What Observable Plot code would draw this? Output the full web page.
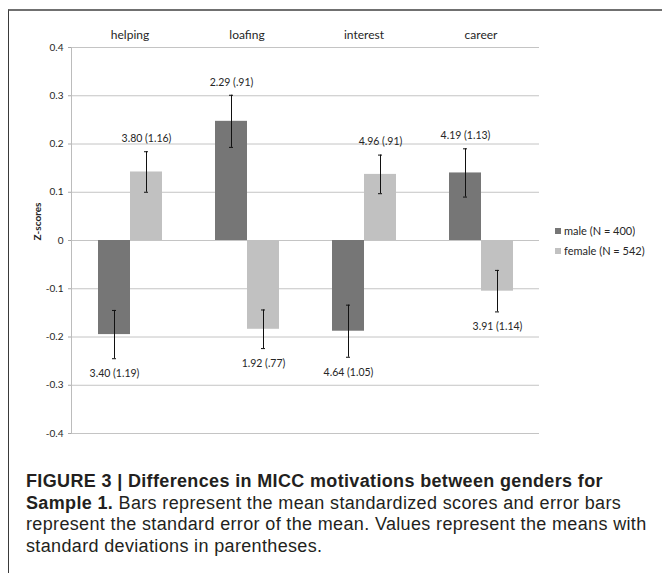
<!DOCTYPE html>
<html>
<head>
<meta charset="utf-8">
<script src="https://cdn.jsdelivr.net/npm/d3@7"></script>
<script src="https://cdn.jsdelivr.net/npm/@observablehq/plot@0.6"></script>
<style>
  html, body { margin: 0; padding: 0; background: #fff; }
  body { width: 662px; height: 581px; overflow: hidden; position: relative; }
  #frame {
    position: absolute; left: 8px; top: 9px; width: 700px; height: 562px;
    border-top: 2px solid #707070; border-left: 1.5px solid #3a3a3a;
  }
  #chart { position: absolute; left: 0; top: 0; }
  #legend { position: absolute; left: 555px; top: 221px; }
  .lg-swatch { height: 19px; }
  .lg-swatch svg { margin-right: 3px !important; }
  #caption {
    position: absolute; left: 26px; top: 471px; white-space: nowrap;
    font-family: "Liberation Sans", Arial, sans-serif; font-size: 18px;
    letter-spacing: 0.35px; line-height: 21.7px; color: #231f20;
  }
  #caption b { font-weight: bold; }
</style>
</head>
<body>
<div id="frame"></div>
<div id="chart"></div>
<div id="legend"></div>
<div id="caption"><b>FIGURE 3 | Differences in MICC motivations between genders for<br>Sample 1.</b> Bars represent the mean standardized scores and error bars<br>represent the standard error of the mean. Values represent the means with<br>standard deviations in parentheses.</div>
<script>
// MICC motivation scales, by gender
const categories = ["helping", "loafing", "interest", "career"];
const genders = ["male", "female"];
const groupN = [400, 542];

// standardized means (z-scores) and their standard errors
const maleZ = [-0.195, 0.247, -0.188, 0.140];
const maleSE = [0.050, 0.054, 0.054, 0.050];
const femaleZ = [0.142, -0.184, 0.137, -0.105];
const femaleSE = [0.042, 0.040, 0.040, 0.043];

// raw means and standard deviations shown as labels
const maleMean = [3.40, 2.29, 4.64, 4.19];
const maleSD = [1.19, 0.91, 1.05, 1.13];
const femaleMean = [3.80, 1.92, 4.96, 3.91];
const femaleSD = [1.16, 0.77, 0.91, 1.14];

const yTicks = [0.4, 0.3, 0.2, 0.1, 0, -0.1, -0.2, -0.3, -0.4];

const fmtSD = (s) => "(" + (s < 1 ? s.toFixed(2).slice(1) : s.toFixed(2)) + ")";

const rows = [];
categories.forEach((c, i) => {
  rows.push({category: c, gender: "male", z: maleZ[i], se: maleSE[i], mean: maleMean[i], sd: maleSD[i]});
  rows.push({category: c, gender: "female", z: femaleZ[i], se: femaleSE[i], mean: femaleMean[i], sd: femaleSD[i]});
});
rows.forEach((d) => {
  d.lo = d.z - d.se;
  d.hi = d.z + d.se;
  d.end = d.z >= 0 ? d.hi : d.lo;
  d.label = d.mean.toFixed(2) + " " + fmtSD(d.sd);
});
const pos = rows.filter((d) => d.z >= 0);
const neg = rows.filter((d) => d.z < 0);

const colors = ["#767676", "#c1c1c1"];
const font = "Lato, 'Open Sans', sans-serif";

const chart = Plot.plot({
  width: 662,
  height: 440,
  marginLeft: 70,
  marginRight: 122,
  marginTop: 47,
  marginBottom: 7,
  style: {background: "transparent", fontFamily: font, color: "#262626"},
  fx: {domain: categories, padding: 0},
  x: {domain: genders, paddingInner: 0, paddingOuter: 0.78, axis: null},
  y: {domain: [-0.4, 0.4]},
  color: {domain: genders, range: colors},
  marks: [
    Plot.gridY(yTicks, {stroke: "#c4c4c4", strokeOpacity: 1}),
    Plot.frame({anchor: "left", stroke: "#bcbcbc", facet: "super"}),
    Plot.axisY({
      ticks: yTicks, tickSize: 3, tickPadding: 5, stroke: "#a8a8a8",
      tickFormat: (d) => (d === 0 ? "0" : d.toFixed(1)), label: null, fontSize: 10
    }),
    Plot.text(["Z-scores"], {frameAnchor: "left", rotate: -90, dx: -34, fontWeight: "bold", fontSize: 10, facet: "super", fill: "#262626"}),
    Plot.axisFx({anchor: "top", tickSize: 0, tickPadding: 9, label: null, fontSize: 12}),
    Plot.barY(rows, {fx: "category", x: "gender", y: "z", fill: "gender"}),
    Plot.ruleX(rows, {fx: "category", x: "gender", y1: "lo", y2: "hi", stroke: "#111", strokeWidth: 1}),
    Plot.tickY(rows, {fx: "category", x: "gender", y: "lo", stroke: "#111", inset: 14}),
    Plot.tickY(rows, {fx: "category", x: "gender", y: "hi", stroke: "#111", inset: 14}),
    Plot.text(pos, {fx: "category", x: "gender", y: "end", text: "label", dy: -13, fontSize: 10.5, fill: "#262626"}),
    Plot.text(neg, {fx: "category", x: "gender", y: "end", text: "label", dy: 15, fontSize: 10.5, fill: "#262626"})
  ]
});
document.getElementById("chart").append(chart);

const legend = Plot.legend({
  color: {domain: genders, range: colors, type: "ordinal"},
  columns: 1,
  swatchSize: 6,
  className: "lg",
  tickFormat: (g) => `${g} (N = ${groupN[genders.indexOf(g)]})`,
  style: {fontFamily: font, fontSize: "11px", color: "#262626", margin: 0}
});
document.getElementById("legend").append(legend);
</script>
</body>
</html>
